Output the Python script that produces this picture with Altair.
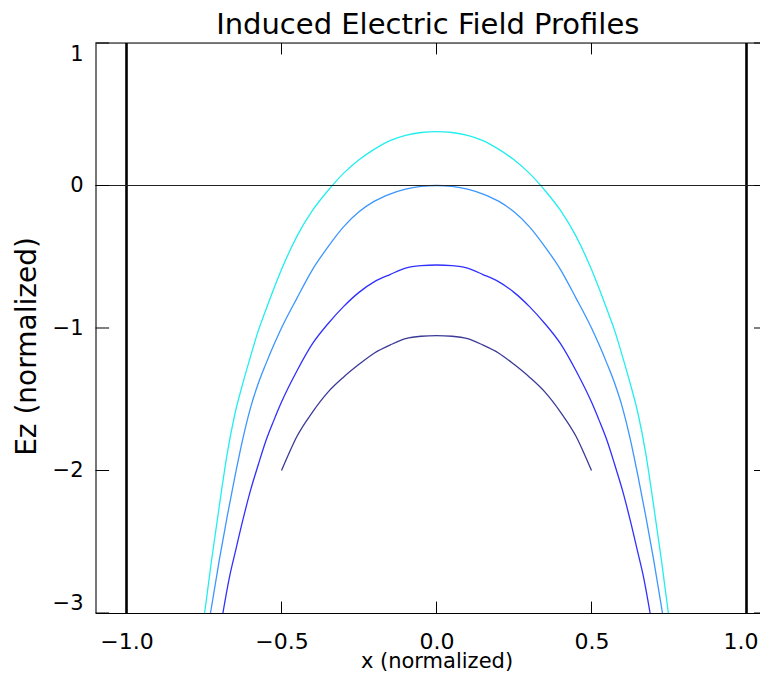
import altair as alt
import pandas as pd

# ---- data ----
cyan_x = [-0.748, -0.725, -0.70, -0.675, -0.65, -0.625, -0.60, -0.575, -0.55, -0.50, -0.45, -0.40, -0.35, -0.30, -0.25,
          -0.20, -0.15, -0.10, -0.05, 0.00, 0.05, 0.10, 0.15, 0.20, 0.25, 0.30, 0.35, 0.40, 0.45, 0.50, 0.55,
          0.575, 0.60, 0.625, 0.65, 0.675, 0.70, 0.725, 0.748]
cyan_y = [-3.00, -2.62, -2.24, -1.88, -1.60, -1.39, -1.20, -1.02, -0.87, -0.59, -0.355, -0.175, -0.035, 0.085, 0.18,
          0.255, 0.315, 0.352, 0.372, 0.378, 0.372, 0.352, 0.315, 0.255, 0.18, 0.085, -0.035, -0.175, -0.355, -0.59, -0.87,
          -1.02, -1.20, -1.39, -1.60, -1.88, -2.24, -2.62, -3.00]

lblue_x = [-0.729, -0.70, -0.675, -0.65, -0.625, -0.60, -0.575, -0.55, -0.525, -0.50, -0.45, -0.40, -0.35, -0.30, -0.25,
           -0.20, -0.15, -0.10, -0.05, 0.00, 0.05, 0.10, 0.15, 0.20, 0.25, 0.30, 0.35, 0.40, 0.45, 0.50, 0.525,
           0.55, 0.575, 0.60, 0.625, 0.65, 0.675, 0.70, 0.729]
lblue_y = [-3.00, -2.62, -2.32, -2.04, -1.78, -1.56, -1.39, -1.25, -1.12, -1.00, -0.79, -0.59, -0.43, -0.29, -0.185,
           -0.11, -0.06, -0.025, -0.006, 0.0, -0.006, -0.025, -0.06, -0.11, -0.185, -0.29, -0.43, -0.59, -0.79, -1.00, -1.12,
           -1.25, -1.39, -1.56, -1.78, -2.04, -2.32, -2.62, -3.00]

blue_x = [-0.689, -0.668, -0.65, -0.625, -0.60, -0.575, -0.55, -0.525, -0.50, -0.45, -0.40, -0.35, -0.30, -0.25,
          -0.20, -0.15, -0.10, -0.05, 0.00, 0.05, 0.10, 0.15, 0.20, 0.25, 0.30, 0.35, 0.40, 0.45, 0.50,
          0.525, 0.55, 0.575, 0.60, 0.625, 0.65, 0.668, 0.689]
blue_y = [-3.00, -2.75, -2.58, -2.35, -2.14, -1.96, -1.79, -1.65, -1.52, -1.30, -1.11, -0.97, -0.85, -0.75,
          -0.675, -0.625, -0.58, -0.563, -0.558, -0.563, -0.58, -0.625, -0.675, -0.75, -0.85, -0.97, -1.11, -1.30, -1.52,
          -1.65, -1.79, -1.96, -2.14, -2.35, -2.58, -2.75, -3.00]

navy_x = [-0.50, -0.475, -0.45, -0.40, -0.35, -0.30, -0.25, -0.20, -0.15, -0.10, -0.05, 0.00,
          0.05, 0.10, 0.15, 0.20, 0.25, 0.30, 0.35, 0.40, 0.45, 0.475, 0.50]
navy_y = [-2.00, -1.875, -1.76, -1.59, -1.45, -1.345, -1.255, -1.175, -1.12, -1.075, -1.058, -1.054,
          -1.058, -1.075, -1.12, -1.175, -1.255, -1.345, -1.45, -1.59, -1.76, -1.875, -2.00]

series_names = ["cyan", "lightblue", "blue", "navy"]
series_colors = ["#22EEEE", "#3C96FF", "#3030FF", "#3A3A96"]

wall_x = [-1.0, 1.0]
zero_y = [0.0]
x_ticks = [-1.0, -0.5, 0.0, 0.5, 1.0]
y_ticks = [1, 0, -1, -2, -3]

# plot box: 310 px per x unit; right side of the box runs off the page as in the reference
W, H = 664.5, 570
X_MIN = -1.1
X_MAX = X_MIN + W / 310.0
FONT = "DejaVu Sans"

rows = []
for name, xs, ys in zip(series_names, [cyan_x, lblue_x, blue_x, navy_x], [cyan_y, lblue_y, blue_y, navy_y]):
    for i, (xv, yv) in enumerate(zip(xs, ys)):
        rows.append({"series": name, "x": xv, "y": yv, "i": i})
df = pd.DataFrame(rows)

xscale = alt.Scale(domain=[X_MIN, X_MAX], nice=False, zero=False)
yscale = alt.Scale(domain=[-3, 1], nice=False, zero=False)

xaxis = alt.Axis(values=x_ticks, format=".1f", ticks=False, tickSize=0, domain=True, domainColor="black",
                 domainWidth=1, grid=False,
                 labelFontSize=22, labelFont=FONT, labelColor="black", labelPadding=18,
                 labelOffset={"condition": {"test": "datum.value == 1", "value": -6}, "value": 0},
                 title="x (normalized)", titleFont=FONT, titleFontSize=21, titleFontWeight="normal",
                 titleColor="black", titleY=37, titleBaseline="top", titleX=341)
yaxis = alt.Axis(values=y_ticks, format="d", ticks=False, tickSize=0, domain=True, domainColor="black",
                 domainWidth=1, grid=False,
                 labelFontSize=21, labelFont=FONT, labelColor="black", labelPadding=12.5, labelFlush=True,
                 title="Ez (normalized)", titleFont=FONT, titleFontSize=28, titleFontWeight="normal",
                 titleColor="black", titleX=-68, titleY=303, titleBaseline="middle")

lines = alt.Chart(df).mark_line(strokeWidth=1.3, clip=True, interpolate="monotone").encode(
    x=alt.X("x:Q", scale=xscale, axis=xaxis),
    y=alt.Y("y:Q", scale=yscale, axis=yaxis),
    color=alt.Color("series:N", scale=alt.Scale(domain=series_names, range=series_colors), legend=None),
    order="i:Q",
    detail="series:N",
)

walls = alt.Chart(pd.DataFrame({"x": wall_x})).mark_rule(color="black", strokeWidth=2.6).encode(
    x=alt.X("x:Q", scale=xscale))
zero = alt.Chart(pd.DataFrame({"y": zero_y})).mark_rule(color="#222222", strokeWidth=1.2).encode(
    y=alt.Y("y:Q", scale=yscale))

# top border of the plot box
top_border = alt.Chart(pd.DataFrame({"y": [1]})).mark_rule(color="black", strokeWidth=1).encode(
    y=alt.Y("y:Q", scale=yscale), x=alt.value(0), x2=alt.value(W))

xt = pd.DataFrame({"x": x_ticks})
yt = pd.DataFrame({"y": y_ticks})
tick_style = dict(color="black", strokeWidth=1)
bt = alt.Chart(xt).mark_rule(**tick_style).encode(x=alt.X("x:Q", scale=xscale), y=alt.value(H), y2=alt.value(H - 11.4))
tt = alt.Chart(xt).mark_rule(**tick_style).encode(x=alt.X("x:Q", scale=xscale), y=alt.value(0), y2=alt.value(11.4))
lt = alt.Chart(yt).mark_rule(**tick_style).encode(y=alt.Y("y:Q", scale=yscale), x=alt.value(0), x2=alt.value(13.6))
rt = alt.Chart(yt).mark_rule(**tick_style).encode(y=alt.Y("y:Q", scale=yscale), x=alt.value(W - 6), x2=alt.value(W))

chart = alt.layer(lines, walls, zero, top_border, bt, tt, lt, rt).properties(
    width=W, height=H,
    title=alt.TitleParams("Induced Electric Field Profiles", font=FONT, fontSize=29, fontWeight="normal",
                          color="black", anchor="middle", offset=2),
    autosize=alt.AutoSizeParams(type="none"),
    padding={"left": 87.5, "top": 35, "right": 0, "bottom": 58},
).configure_view(stroke="transparent", strokeWidth=0).configure(background="white")

chart.save("out.html", embed_options={"renderer": "svg", "actions": False})
